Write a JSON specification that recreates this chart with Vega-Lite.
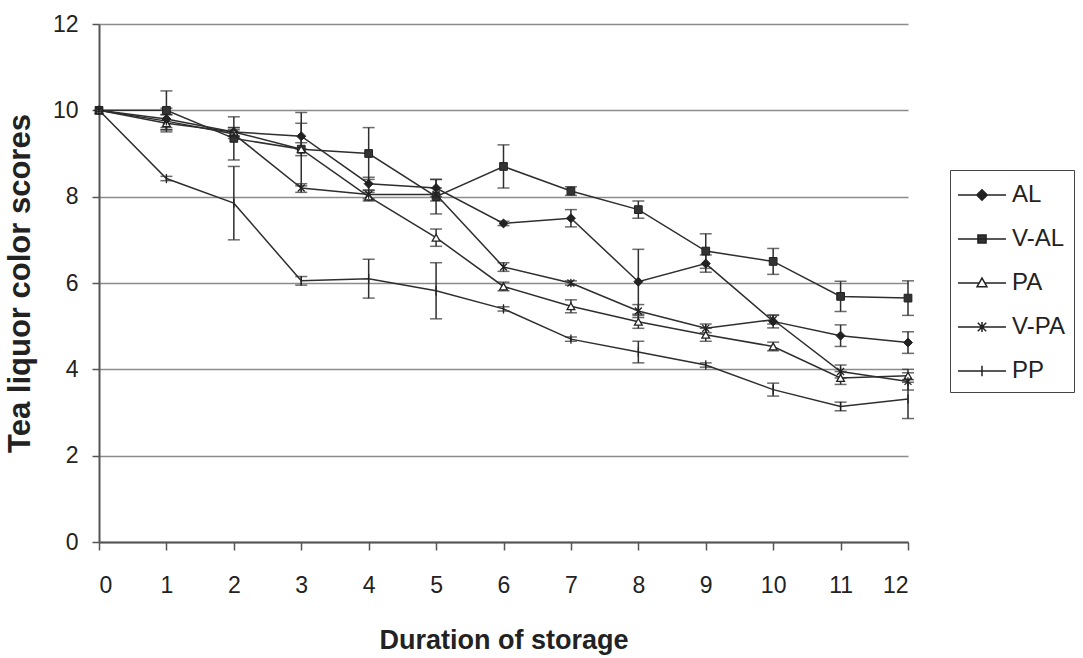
{
  "$schema": "https://vega.github.io/schema/vega-lite/v6.json",
  "width": 809,
  "height": 518,
  "autosize": {"type": "none"},
  "padding": {"left": 99, "top": 24, "right": 175, "bottom": 116},
  "background": "white",
  "config": {
    "view": {"stroke": null},
    "font": "Liberation Sans",
    "axis": {
      "labelFont": "Liberation Sans",
      "titleFont": "Liberation Sans",
      "titleFontWeight": "bold",
      "labelColor": "#222",
      "titleColor": "#222",
      "domainColor": "#555",
      "domainWidth": 2,
      "tickColor": "#555",
      "tickWidth": 1.5
    }
  },
  "data": {
    "values": [
      {"series": "AL", "duration": 0, "score": 10, "sd": 0},
      {"series": "AL", "duration": 1, "score": 9.8, "sd": 0.25},
      {"series": "AL", "duration": 2, "score": 9.5, "sd": 0.1},
      {"series": "AL", "duration": 3, "score": 9.4, "sd": 0.3},
      {"series": "AL", "duration": 4, "score": 8.3, "sd": 0.15},
      {"series": "AL", "duration": 5, "score": 8.2, "sd": 0.2},
      {"series": "AL", "duration": 6, "score": 7.38, "sd": 0.05},
      {"series": "AL", "duration": 7, "score": 7.5, "sd": 0.2},
      {"series": "AL", "duration": 8, "score": 6.03, "sd": 0.75},
      {"series": "AL", "duration": 9, "score": 6.45, "sd": 0.2},
      {"series": "AL", "duration": 10, "score": 5.11, "sd": 0.15},
      {"series": "AL", "duration": 11, "score": 4.78, "sd": 0.25},
      {"series": "AL", "duration": 12, "score": 4.62, "sd": 0.25},
      {"series": "V-AL", "duration": 0, "score": 10, "sd": 0},
      {"series": "V-AL", "duration": 1, "score": 10.0, "sd": 0.45},
      {"series": "V-AL", "duration": 2, "score": 9.35, "sd": 0.5},
      {"series": "V-AL", "duration": 3, "score": 9.1, "sd": 0.85},
      {"series": "V-AL", "duration": 4, "score": 9.0, "sd": 0.6},
      {"series": "V-AL", "duration": 5, "score": 8.0, "sd": 0.4},
      {"series": "V-AL", "duration": 6, "score": 8.7, "sd": 0.5},
      {"series": "V-AL", "duration": 7, "score": 8.13, "sd": 0.1},
      {"series": "V-AL", "duration": 8, "score": 7.7, "sd": 0.2},
      {"series": "V-AL", "duration": 9, "score": 6.74, "sd": 0.4},
      {"series": "V-AL", "duration": 10, "score": 6.5, "sd": 0.3},
      {"series": "V-AL", "duration": 11, "score": 5.69, "sd": 0.35},
      {"series": "V-AL", "duration": 12, "score": 5.65, "sd": 0.4},
      {"series": "PA", "duration": 0, "score": 10, "sd": 0},
      {"series": "PA", "duration": 1, "score": 9.7, "sd": 0.2},
      {"series": "PA", "duration": 2, "score": 9.5, "sd": 0.1},
      {"series": "PA", "duration": 3, "score": 9.1, "sd": 0.15},
      {"series": "PA", "duration": 4, "score": 8.0, "sd": 0.1},
      {"series": "PA", "duration": 5, "score": 7.05, "sd": 0.2},
      {"series": "PA", "duration": 6, "score": 5.92, "sd": 0.1},
      {"series": "PA", "duration": 7, "score": 5.46, "sd": 0.15},
      {"series": "PA", "duration": 8, "score": 5.1, "sd": 0.15},
      {"series": "PA", "duration": 9, "score": 4.8, "sd": 0.15},
      {"series": "PA", "duration": 10, "score": 4.53, "sd": 0.1},
      {"series": "PA", "duration": 11, "score": 3.8, "sd": 0.15},
      {"series": "PA", "duration": 12, "score": 3.85, "sd": 0.15},
      {"series": "V-PA", "duration": 0, "score": 10, "sd": 0},
      {"series": "V-PA", "duration": 1, "score": 9.75, "sd": 0.15},
      {"series": "V-PA", "duration": 2, "score": 9.45, "sd": 0.1},
      {"series": "V-PA", "duration": 3, "score": 8.2, "sd": 0.1},
      {"series": "V-PA", "duration": 4, "score": 8.05, "sd": 0.1},
      {"series": "V-PA", "duration": 5, "score": 8.05, "sd": 0.15},
      {"series": "V-PA", "duration": 6, "score": 6.37, "sd": 0.1},
      {"series": "V-PA", "duration": 7, "score": 6.0, "sd": 0.05},
      {"series": "V-PA", "duration": 8, "score": 5.35, "sd": 0.15},
      {"series": "V-PA", "duration": 9, "score": 4.95, "sd": 0.1},
      {"series": "V-PA", "duration": 10, "score": 5.15, "sd": 0.1},
      {"series": "V-PA", "duration": 11, "score": 3.95, "sd": 0.15},
      {"series": "V-PA", "duration": 12, "score": 3.72, "sd": 0.2},
      {"series": "PP", "duration": 0, "score": 10, "sd": 0},
      {"series": "PP", "duration": 1, "score": 8.42, "sd": 0.05},
      {"series": "PP", "duration": 2, "score": 7.85, "sd": 0.85},
      {"series": "PP", "duration": 3, "score": 6.05, "sd": 0.1},
      {"series": "PP", "duration": 4, "score": 6.1, "sd": 0.45},
      {"series": "PP", "duration": 5, "score": 5.82, "sd": 0.65},
      {"series": "PP", "duration": 6, "score": 5.4, "sd": 0.05},
      {"series": "PP", "duration": 7, "score": 4.7, "sd": 0.05},
      {"series": "PP", "duration": 8, "score": 4.4, "sd": 0.25},
      {"series": "PP", "duration": 9, "score": 4.1, "sd": 0.05},
      {"series": "PP", "duration": 10, "score": 3.53, "sd": 0.15},
      {"series": "PP", "duration": 11, "score": 3.14, "sd": 0.1},
      {"series": "PP", "duration": 12, "score": 3.31, "sd": 0.45}
    ]
  },
  "encoding": {
    "x": {
      "field": "duration",
      "type": "quantitative",
      "scale": {"domain": [0, 12], "nice": false, "zero": false},
      "axis": {
        "title": "Duration of storage",
        "values": [0, 1, 2, 3, 4, 5, 6, 7, 8, 9, 10, 11, 12],
        "format": "d",
        "grid": false,
        "labelFontSize": 23,
        "titleFontSize": 27,
        "tickSize": 8,
        "labelPadding": 24,
        "titlePadding": 30
      }
    },
    "y": {
      "field": "score",
      "type": "quantitative",
      "scale": {"domain": [0, 12], "nice": false},
      "axis": {
        "title": "Tea liquor color scores",
        "values": [0, 2, 4, 6, 8, 10, 12],
        "grid": true,
        "gridColor": "#8c8c8c",
        "gridWidth": 1.5,
        "labelFontSize": 23,
        "titleFontSize": 31,
        "tickSize": 7,
        "labelPadding": 14,
        "titlePadding": 16
      }
    }
  },
  "layer": [
    {
      "mark": {"type": "line", "color": "#2e2e2e", "strokeWidth": 1.5},
      "encoding": {"detail": {"field": "series"}}
    },
    {
      "transform": [{"filter": "datum.sd > 0"}],
      "mark": {
        "type": "errorbar",
        "ticks": {"size": 12, "thickness": 1.5, "color": "#2e2e2e"},
        "rule": {"strokeWidth": 1.5, "color": "#2e2e2e"}
      },
      "encoding": {
        "yError": {"field": "sd"},
        "detail": {"field": "series"}
      }
    },
    {
      "transform": [{"filter": "datum.series === 'AL'"}],
      "mark": {"type": "point", "shape": "diamond", "filled": true, "fill": "#222", "stroke": "#222", "strokeWidth": 1, "size": 80, "opacity": 1}
    },
    {
      "transform": [{"filter": "datum.series === 'V-AL'"}],
      "mark": {"type": "point", "shape": "square", "filled": true, "fill": "#333", "stroke": "#222", "strokeWidth": 1, "size": 60, "opacity": 1}
    },
    {
      "transform": [{"filter": "datum.series === 'PA'"}],
      "mark": {"type": "point", "shape": "triangle-up", "filled": true, "fill": "white", "stroke": "#222", "strokeWidth": 1.3, "size": 60, "opacity": 1}
    },
    {
      "transform": [{"filter": "datum.series === 'V-PA'"}],
      "mark": {"type": "point", "shape": "M-0.9,-0.9L0.9,0.9M-0.9,0.9L0.9,-0.9M0,-1.1L0,1.1", "filled": false, "stroke": "#222", "strokeWidth": 1.3, "size": 60, "opacity": 1}
    },
    {
      "transform": [{"filter": "datum.series === 'PP'"}],
      "mark": {"type": "point", "shape": "M0,-1.2L0,1.2", "filled": false, "stroke": "#222", "strokeWidth": 1.3, "size": 60, "opacity": 1}
    },
    {
      "transform": [{"filter": "datum.duration < 0"}],
      "mark": {"type": "point", "filled": true, "stroke": "#222", "strokeWidth": 1.5, "opacity": 1},
      "encoding": {
        "fill": {
          "field": "series",
          "type": "nominal",
          "scale": {"domain": ["AL", "V-AL", "PA", "V-PA", "PP"], "range": ["#222", "#333", "white", "#222", "#222"]},
          "legend": {
            "orient": "none",
            "legendX": 851,
            "legendY": 146,
            "title": null,
            "symbolSize": 900,
            "symbolStrokeWidth": 1.5,
            "symbolOpacity": 1,
            "symbolStrokeColor": "#222",
            "padding": 9,
            "symbolOffset": 7,
            "labelOffset": 14,
            "rowPadding": 16,
            "labelFontSize": 24,
            "labelFont": "Liberation Sans",
            "labelColor": "#222",
            "strokeColor": "#444",
            "fillColor": "white",
            "encode": {
              "symbols": {
                "update": {
                  "stroke": {"value": "#222"},
                  "strokeWidth": {"value": 1.5},
                  "opacity": {"value": 1}
                }
              }
            }
          }
        },
        "shape": {
          "field": "series",
          "type": "nominal",
          "scale": {
            "domain": ["AL", "V-AL", "PA", "V-PA", "PP"],
            "range": [
              "M-1.6,0L1.6,0M0,-0.35L0.35,0L0,0.35L-0.35,0Z",
              "M-1.6,0L1.6,0M-0.27,-0.27L0.27,-0.27L0.27,0.27L-0.27,0.27Z",
              "M-1.6,0L-0.19,0M0.19,0L1.6,0M0,-0.33L0.33,0.25L-0.33,0.25Z",
              "M-1.6,0L1.6,0M-0.28,-0.28L0.28,0.28M-0.28,0.28L0.28,-0.28M0,-0.33L0,0.33",
              "M-1.6,0L1.6,0M0,-0.35L0,0.35"
            ]
          },
          "legend": {
            "orient": "none",
            "legendX": 851,
            "legendY": 146,
            "title": null,
            "symbolSize": 900,
            "symbolStrokeWidth": 1.5,
            "symbolOpacity": 1,
            "symbolStrokeColor": "#222",
            "padding": 9,
            "symbolOffset": 7,
            "labelOffset": 14,
            "rowPadding": 16,
            "labelFontSize": 24,
            "labelFont": "Liberation Sans",
            "labelColor": "#222",
            "strokeColor": "#444",
            "fillColor": "white",
            "encode": {
              "symbols": {
                "update": {
                  "stroke": {"value": "#222"},
                  "strokeWidth": {"value": 1.5},
                  "opacity": {"value": 1}
                }
              }
            }
          }
        }
      }
    }
  ]
}
